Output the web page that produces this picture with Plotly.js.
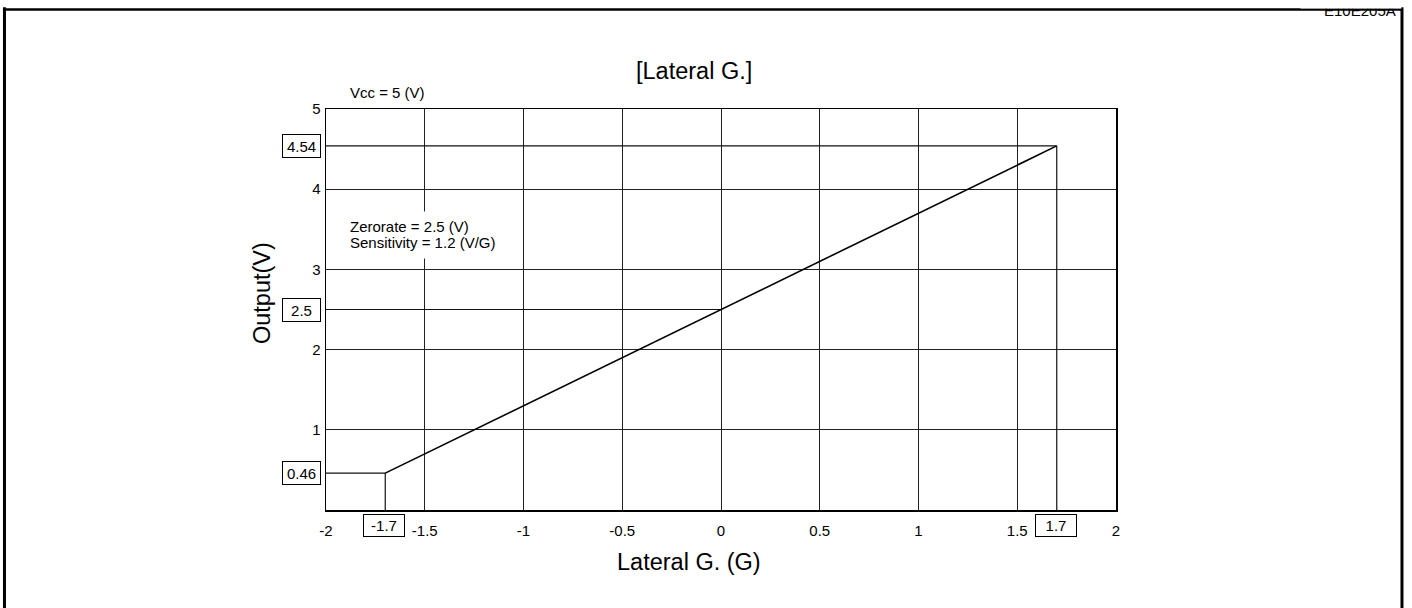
<!DOCTYPE html>
<html>
<head>
<meta charset="utf-8">
<script src="https://cdn.plot.ly/plotly-3.0.1.min.js"></script>
<style>html,body{margin:0;padding:0;background:#fff;}#chart{width:1412px;height:608px;}</style>
</head>
<body>
<div id="chart"></div>
<script>
// ---- data ----
const xRange = [-2, 2];
const yRange = [0, 5];
const xTickVals = [-2, -1.5, -1, -0.5, 0, 0.5, 1, 1.5, 2];
const xTickText = ['-2', '-1.5', '-1', '-0.5', '0', '0.5', '1', '1.5', '2'];
const yTickVals = [1, 2, 3, 4, 5];
const yTickText = ['1', '2', '3', '4', '5'];
const lateralG = [-1.7, 1.7];          // G
const outputV = [0.46, 4.54];          // V
const zeroG = 0;
const zeroRateV = 2.5;
const markedX = [-1.7, 1.7];
const markedY = [0.46, 2.5, 4.54];
const chartTitle = '[Lateral G.]';
const xTitle = 'Lateral G. (G)';
const yTitle = 'Output(V)';
const noteVcc = 'Vcc = 5 (V)';
const noteZero = 'Zerorate = 2.5 (V)';
const noteSens = 'Sensitivity = 1.2 (V/G)';
const docCode = 'E10E205A';

// guide lines built from the data
const gx = [], gy = [];
function seg(x0, y0, x1, y1) { gx.push(x0, x1, null); gy.push(y0, y1, null); }
seg(xRange[0], outputV[0], lateralG[0], outputV[0]);
seg(lateralG[0], yRange[0], lateralG[0], outputV[0]);
seg(xRange[0], outputV[1], lateralG[1], outputV[1]);
seg(lateralG[1], yRange[0], lateralG[1], outputV[1]);
seg(xRange[0], zeroRateV, zeroG, zeroRateV);

const FONT = '"Liberation Sans", Arial, sans-serif';

const traces = [
  {x: gx, y: gy, mode: 'lines', line: {color: '#111', width: 1.2}, hoverinfo: 'skip', showlegend: false, connectgaps: false},
  {x: lateralG, y: outputV, mode: 'lines', line: {color: '#000', width: 1.6}, showlegend: false}
];

const boxStyle = {bordercolor: '#000', borderwidth: 1, borderpad: 2, bgcolor: '#fff', showarrow: false,
  font: {family: FONT, size: 15, color: '#000'}};

const annotations = [];
markedY.forEach(v => annotations.push(Object.assign({}, boxStyle, {
  text: String(v), xref: 'paper', x: 0, xanchor: 'right', xshift: -5,
  yref: 'y', y: v, yanchor: 'middle', width: 33, height: 18
})));
markedX.forEach(v => annotations.push(Object.assign({}, boxStyle, {
  text: String(v), xref: 'x', x: v, xanchor: 'center', xshift: -1,
  yref: 'paper', y: 0, yanchor: 'top', yshift: -4, width: 36, height: 17
})));
const noteFont = {family: FONT, size: 15, color: '#000'};
annotations.push(
  {text: chartTitle, xref: 'paper', x: 0.466, yref: 'paper', y: 1.095, xanchor: 'center', yanchor: 'middle',
   showarrow: false, font: {family: FONT, size: 23.5, color: '#000'}},
  {text: noteVcc, xref: 'paper', x: 0.0275, yref: 'paper', y: 1.042, xanchor: 'left', yanchor: 'middle',
   showarrow: false, font: noteFont},
  // white backing behind the note text (hides grid lines there)
  {text: '.', xref: 'paper', x: 0.024, yref: 'paper', y: 0.687, xanchor: 'left', yanchor: 'middle',
   width: 132, height: 46, bgcolor: '#fff', borderpad: 0, showarrow: false,
   font: {family: FONT, size: 4, color: '#fff'}},
  {text: noteZero, xref: 'paper', x: 0.0275, yref: 'paper', y: 0.708, xanchor: 'left', yanchor: 'middle',
   showarrow: false, font: noteFont},
  {text: noteSens, xref: 'paper', x: 0.0275, yref: 'paper', y: 0.666, xanchor: 'left', yanchor: 'middle',
   showarrow: false, font: noteFont},
  {text: xTitle, xref: 'paper', x: 0.460, yref: 'paper', y: -0.130, xanchor: 'center', yanchor: 'middle',
   showarrow: false, font: {family: FONT, size: 23.5, color: '#000'}},
  {text: yTitle, xref: 'paper', x: -0.081, yref: 'paper', y: 0.541, xanchor: 'center', yanchor: 'middle',
   textangle: -90, showarrow: false, font: {family: FONT, size: 23.5, color: '#000'}},
  {text: docCode, xref: 'paper', x: 1.357, yref: 'paper', y: 1.2205, xanchor: 'right', yanchor: 'bottom',
   showarrow: false, font: {family: FONT, size: 15, color: '#000'}},
  {text: '.', xref: 'paper', x: 1.362, yref: 'paper', y: 1.2506, xanchor: 'right', yanchor: 'bottom',
   width: 100, height: 14, bgcolor: '#fff', borderpad: 0, showarrow: false,
   font: {family: FONT, size: 4, color: '#fff'}}
);

const frame = {type: 'line', xref: 'paper', yref: 'paper', line: {color: '#000', width: 3}};
const shapes = [
  Object.assign({}, frame, {x0: -0.407, x1: -0.407, y0: 1.254, y1: -0.3}),
  Object.assign({}, frame, {x0: 1.362, x1: 1.362, y0: 1.254, y1: -0.3}),
  Object.assign({}, frame, {x0: -0.407, x1: 1.362, y0: 1.2481, y1: 1.2481, line: {color: '#000', width: 2.5}})
];

const layout = {
  width: 1412, height: 608,
  margin: {l: 326, r: 296, t: 109, b: 98, pad: 0},
  paper_bgcolor: '#fff', plot_bgcolor: '#fff',
  font: {family: FONT, size: 15, color: '#000'},
  showlegend: false,
  xaxis: {range: xRange, tickvals: xTickVals, ticktext: xTickText, showgrid: true, gridcolor: '#222', gridwidth: 1,
    zeroline: false, showline: true, mirror: true, linecolor: '#000', linewidth: 1.5, ticks: '',
    ticklabelstandoff: 6, tickfont: {family: FONT, size: 15, color: '#000'}, fixedrange: true},
  yaxis: {range: yRange, tickvals: yTickVals, ticktext: yTickText, showgrid: true, gridcolor: '#222', gridwidth: 1,
    zeroline: false, showline: true, mirror: true, linecolor: '#000', linewidth: 1.5, ticks: '',
    ticklabelstandoff: 1, tickfont: {family: FONT, size: 15, color: '#000'}, fixedrange: true},
  annotations: annotations,
  shapes: shapes
};

Plotly.newPlot('chart', traces, layout, {displayModeBar: false, staticPlot: true});
</script>
</body>
</html>
